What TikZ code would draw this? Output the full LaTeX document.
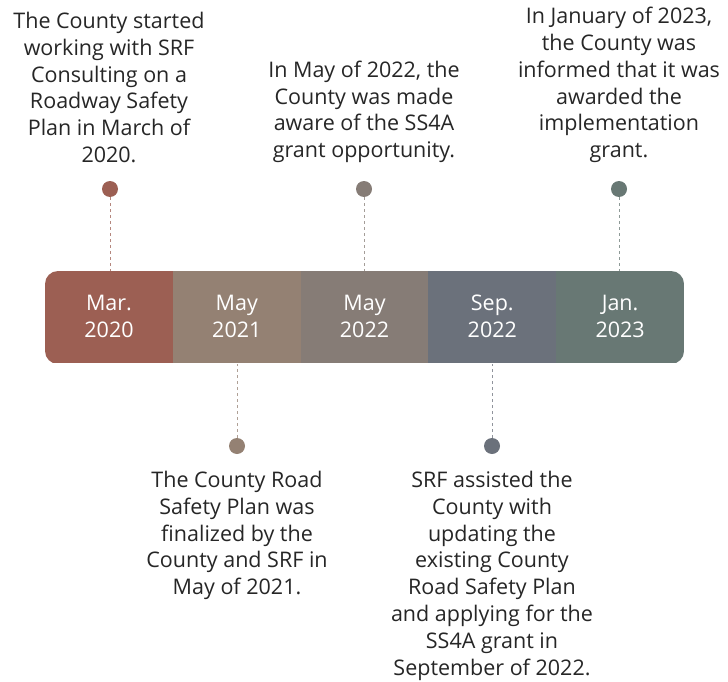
\documentclass[tikz,border=0pt]{standalone}
\usepackage{fontspec}
\setmainfont{Open Sans}
\definecolor{cA}{HTML}{9C5F53}
\definecolor{cB}{HTML}{948173}
\definecolor{cC}{HTML}{867C76}
\definecolor{cD}{HTML}{6B717B}
\definecolor{cE}{HTML}{687874}
\definecolor{txt}{HTML}{262626}
\begin{document}
\begin{tikzpicture}[x=1pt,y=-1pt,
  seg/.style={minimum width=127.8pt,minimum height=93pt,inner sep=0pt,outer sep=0pt,
    text=white,align=center,font=\fontsize{21.5}{27}\selectfont},
  dot/.style={circle,minimum size=16pt,inner sep=0pt,outer sep=0pt},
  lead/.style={dashed,dash pattern=on 3pt off 3pt,line width=0.8pt},
  note/.style={text=txt,align=center,font=\fontsize{21.5}{26.8}\selectfont,inner sep=0pt}]
\useasboundingbox (0,0) rectangle (728,682);
\begin{scope}
\clip[rounded corners=13pt] (45,271) rectangle (684,364);
\node[seg,fill=cA] (s1) at (109.0,316.5) {Mar.\\2020};
\node[seg,fill=cB] (s2) at (236.8,316.5) {May\\2021};
\node[seg,fill=cC] (s3) at (364.5,316.5) {May\\2022};
\node[seg,fill=cD] (s4) at (492.3,316.5) {Sep.\\2022};
\node[seg,fill=cE] (s5) at (620.1,316.5) {Jan.\\2023};
\end{scope}
\node[dot,fill=cA] (d1) at (110,189) {};
\node[dot,fill=cB] (d2) at (237,446) {};
\node[dot,fill=cC] (d3) at (364,189) {};
\node[dot,fill=cD] (d4) at (492,446) {};
\node[dot,fill=cE] (d5) at (619,189) {};
\draw[lead,cA!75!white] (d1.south) -- (d1.south |- 0,271);
\draw[lead,cB!75!white] (d2.north) -- (d2.north |- 0,364);
\draw[lead,cC!75!white] (d3.south) -- (d3.south |- 0,271);
\draw[lead,cD!75!white] (d4.north) -- (d4.north |- 0,364);
\draw[lead,cE!75!white] (d5.south) -- (d5.south |- 0,271);
\node[note,anchor=south] (t1) at (109,163) {The County started\\working with SRF\\Consulting on a\\Roadway Safety\\Plan in March of\\2020.};
\node[note,anchor=south] (t3) at (364,163) {In May of 2022, the\\County was made\\aware of the SS4A\\grant opportunity.};
\node[note,anchor=south] (t5) at (619,163) {In January of 2023,\\the County was\\informed that it was\\awarded the\\implementation\\grant.};
\node[note,anchor=north] (t2) at (237,471) {The County Road\\Safety Plan was\\finalized by the\\County and SRF in\\May of 2021.};
\node[note,anchor=north] (t4) at (492,471) {SRF assisted the\\County with\\updating the\\existing County\\Road Safety Plan\\and applying for the\\SS4A grant in\\September of 2022.};
\end{tikzpicture}
\end{document}
